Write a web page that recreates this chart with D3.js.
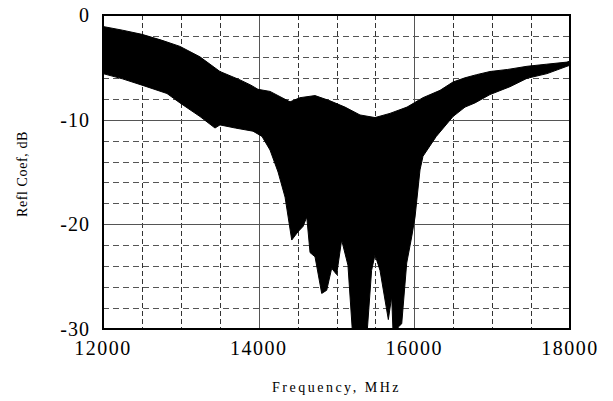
<!DOCTYPE html>
<html>
<head>
<meta charset="utf-8">
<script src="https://cdn.jsdelivr.net/npm/d3@7"></script>
<style>
  html, body { margin: 0; padding: 0; background: #fff; }
  svg { display: block; }
</style>
</head>
<body>
<svg id="chart" width="613" height="401"></svg>
<script>
// ---- data ----
const xTicks = [12000, 14000, 16000, 18000];
const yTicks = [0, -10, -20, -30];
const xTitle = "Frequency, MHz";
const yTitle = "Refl Coef, dB";

// upper envelope of the oscillating response
const upperFreq = [12000, 12250, 12501, 12750, 12989, 13246, 13503, 13760, 13900, 13991, 14146, 14300, 14403, 14531, 14724, 14916, 15109, 15302, 15495, 15687, 15906, 16111, 16330, 16497, 16651, 16800, 16972, 17200, 17448, 17700, 17961, 18000];
const upperDb   = [-1.1, -1.45, -1.85, -2.4, -3.0, -4.0, -5.4, -6.2, -6.7, -7.1, -7.3, -7.9, -8.3, -7.9, -7.7, -8.2, -8.8, -9.55, -9.8, -9.4, -8.8, -7.9, -7.2, -6.4, -6.0, -5.7, -5.4, -5.2, -4.9, -4.7, -4.5, -4.4];

// lower envelope of the oscillating response
const lowerFreq = [12000, 12250, 12501, 12822, 12989, 13246, 13439, 13503, 13700, 13927, 14043, 14146, 14249, 14339, 14425, 14506, 14570, 14618, 14660, 14724, 14810, 14874, 14938, 15002, 15066, 15147, 15211, 15387, 15451, 15495, 15559, 15666, 15709, 15730, 15795, 15838, 15902, 15966, 16009, 16073, 16111, 16282, 16497, 16651, 16779, 16972, 17229, 17448, 17705, 17961, 18000];
const lowerDb   = [-5.6, -6.1, -6.7, -7.5, -8.4, -9.7, -10.8, -10.5, -10.8, -11.1, -11.6, -12.9, -15.0, -17.4, -21.5, -20.7, -20.2, -19.3, -22.7, -23.1, -26.6, -26.3, -24.2, -24.8, -21.5, -23.9, -31, -31, -24.4, -22.9, -24.4, -29.1, -26.9, -31, -29.8, -29.5, -23.7, -21.2, -19.3, -14.8, -13.5, -11.6, -9.7, -8.8, -8.4, -7.6, -6.85, -6.05, -5.6, -4.9, -4.8];

// ---- layout ----
const svg = d3.select("#chart");
const L = 103, R = 570, T = 15, B = 329;

const x = d3.scaleLinear().domain([12000, 18000]).range([L, R]);
const y = d3.scaleLinear().domain([0, -30]).range([T, B]);

svg.append("defs").append("clipPath").attr("id", "clip")
  .append("rect").attr("x", L).attr("y", T).attr("width", R - L).attr("height", B - T);

// grid: dashed minor lines
const minorX = d3.range(12500, 18000, 500).filter(v => v % 2000 !== 0);
const minorY = d3.range(-2, -30, -2).filter(v => v % 10 !== 0);
const majorX = [14000, 16000];
const majorY = [-10, -20];

const grid = svg.append("g");
grid.selectAll(".mx").data(minorX).join("line")
  .attr("x1", d => Math.round(x(d)) + 0.5).attr("x2", d => Math.round(x(d)) + 0.5)
  .attr("y1", T).attr("y2", B)
  .attr("stroke", "#333").attr("stroke-width", 1).attr("stroke-dasharray", "5,3");
grid.selectAll(".my").data(minorY).join("line")
  .attr("y1", d => Math.round(y(d)) + 0.5).attr("y2", d => Math.round(y(d)) + 0.5)
  .attr("x1", L).attr("x2", R)
  .attr("stroke", "#555").attr("stroke-width", 1).attr("stroke-dasharray", "6,4");
grid.selectAll(".Mx").data(majorX).join("line")
  .attr("x1", d => Math.round(x(d)) + 0.5).attr("x2", d => Math.round(x(d)) + 0.5)
  .attr("y1", T).attr("y2", B)
  .attr("stroke", "#555").attr("stroke-width", 1);
grid.selectAll(".My").data(majorY).join("line")
  .attr("y1", d => Math.round(y(d)) + 0.5).attr("y2", d => Math.round(y(d)) + 0.5)
  .attr("x1", L).attr("x2", R)
  .attr("stroke", "#555").attr("stroke-width", 1);

// filled band between envelopes
const pts = upperFreq.map((f, i) => [x(f), y(upperDb[i])])
  .concat(lowerFreq.map((f, i) => [x(f), y(lowerDb[i])]).reverse());
svg.append("path")
  .attr("clip-path", "url(#clip)")
  .attr("d", d3.line()(pts) + "Z")
  .attr("fill", "#000").attr("stroke", "#000").attr("stroke-width", 1);

// frame
svg.append("rect").attr("x", L).attr("y", T).attr("width", R - L).attr("height", B - T)
  .attr("fill", "none").attr("stroke", "#000").attr("stroke-width", 2);

// tick labels
const font = "'Liberation Serif', 'Times New Roman', serif";
svg.append("g").selectAll("text").data(yTicks).join("text")
  .attr("x", 90).attr("y", d => y(d))
  .attr("text-anchor", "end").attr("dominant-baseline", "central")
  .attr("font-family", font).attr("font-size", 20).attr("letter-spacing", 1)
  .text(d => d);
svg.append("g").selectAll("text").data(xTicks).join("text")
  .attr("x", d => x(d)).attr("y", 355)
  .attr("text-anchor", "middle")
  .attr("font-family", font).attr("font-size", 20).attr("letter-spacing", 1.5)
  .text(d => d);

// axis titles
svg.append("text")
  .attr("x", (L + R) / 2).attr("y", 392)
  .attr("text-anchor", "middle")
  .attr("font-family", font).attr("font-size", 14).attr("letter-spacing", 2.5)
  .text(xTitle);
svg.append("text")
  .attr("transform", `translate(27, ${(T + B) / 2 + 2}) rotate(-90)`)
  .attr("text-anchor", "middle")
  .attr("font-family", font).attr("font-size", 14).attr("letter-spacing", 0.6)
  .text(yTitle);
</script>
</body>
</html>
